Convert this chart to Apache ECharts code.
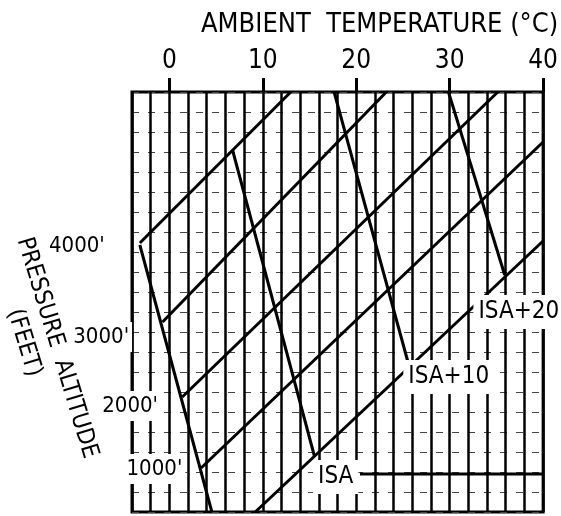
<!DOCTYPE html>
<html>
<head>
<meta charset="utf-8">
<script src="https://cdn.jsdelivr.net/npm/echarts@6/dist/echarts.min.js"></script>
<style>
html, body { margin: 0; padding: 0; background: #fff; }
#chart { width: 561px; height: 516px; }
</style>
</head>
<body>
<div id="chart"></div>
<script>
var font = "'DejaVu Sans Condensed', 'Liberation Sans Narrow', sans-serif";

// temperature ticks on the top axis
var tempTicks = [0, 10, 20, 30, 40];

// pressure altitude lines: [temperature, chart level] at each end
var altNames = ["4000'", "3000'", "2000'", "1000'", ""];
var altStart = [[-3.16, 13.45], [-0.73, 9.5], [1.38, 5.75], [3.39, 2.2], [9.19, 0]];
var altEnd = [[12.99, 21], [23.22, 21], [35.15, 21], [40, 18.5], [40, 13.55]];
var altLabelAt = [[-9.9, 13.3], [-7.3, 8.75], [-4.2, 5.3], [-1.6, 2.15]];

// ISA deviation lines
var isaNames = ['ISA', 'ISA+10', 'ISA+20'];
var isaStart = [[6.76, 18.1], [17.63, 21], [29.87, 21]];
var isaEnd = [[15.52, 2.8], [25.65, 7.3], [35.89, 11.85]];
var isaLabelAt = [[17.8, 1.75], [29.9, 6.75], [37.4, 10.0]];

// base line where the altitude lines start
var baseLine = [[-3.16, 13.35], [4.55, 0]];
// solid rule at the bottom right
var ruleLine = [[20.4, 1.9], [40, 1.9]];

var chart = echarts.init(document.getElementById('chart'));

var lineStyle = { color: '#000', width: 3 };
var series = [];

function addLine(name, pts) {
  series.push({
    name: name,
    type: 'line',
    data: pts,
    symbol: 'none',
    silent: true,
    clip: true,
    z: 3,
    lineStyle: lineStyle
  });
}

addLine('base', baseLine);
for (var i = 0; i < altNames.length; i++) {
  addLine(altNames[i] || 'SL', [altStart[i], altEnd[i]]);
}
for (var j = 0; j < isaNames.length; j++) {
  addLine(isaNames[j], [isaStart[j], isaEnd[j]]);
}
addLine('rule', ruleLine);

var labelData = [];
for (var k = 0; k < altLabelAt.length; k++) {
  labelData.push({ name: altNames[k], value: altLabelAt[k], label: { fontSize: 22, padding: [4, 3] } });
}
for (var m = 0; m < isaLabelAt.length; m++) {
  labelData.push({ name: isaNames[m], value: isaLabelAt[m], label: { fontSize: 24, padding: [5, 5] } });
}

series.push({
  name: 'labels',
  type: 'scatter',
  data: labelData,
  symbolSize: 0,
  clip: false,
  silent: true,
  z: 10,
  itemStyle: { opacity: 1 },
  label: {
    show: true,
    position: 'inside',
    formatter: '{b}',
    color: '#000',
    opacity: 1,
    textBorderWidth: 0,
    fontFamily: font,
    backgroundColor: '#fff'
  }
});

var option = {
  animation: false,
  backgroundColor: '#fff',
  title: {
    text: 'AMBIENT  TEMPERATURE (°C)',
    left: 196,
    top: 6,
    textStyle: { fontSize: 27, fontWeight: 'normal', color: '#000', fontFamily: font }
  },
  grid: {
    left: 132,
    right: 11,
    top: 92,
    bottom: 4,
    show: true,
    borderColor: '#000',
    borderWidth: 3
  },
  xAxis: [{
    type: 'value',
    position: 'top',
    min: -4,
    max: 40,
    interval: 2,
    axisLine: { show: false },
    axisTick: { show: false },
    axisLabel: {
      fontSize: 26,
      color: '#000',
      margin: 18,
      fontFamily: font,
      formatter: function (v) { return tempTicks.indexOf(v) >= 0 ? String(v) : ''; }
    },
    splitLine: { show: true, lineStyle: { color: '#000', width: 2.5 } }
  }, {
    type: 'value',
    position: 'top',
    min: -4,
    max: 40,
    axisLine: { show: false },
    axisLabel: { show: false },
    splitLine: { show: false },
    axisTick: {
      show: true,
      customValues: tempTicks,
      length: 14,
      lineStyle: { color: '#000', width: 3 }
    }
  }],
  yAxis: {
    type: 'value',
    min: 0,
    max: 21,
    interval: 1,
    axisLine: { show: false },
    axisTick: { show: false },
    axisLabel: { show: false },
    splitLine: { show: true, lineStyle: { color: '#444', width: 1.2, type: [7, 9] } }
  },
  graphic: [
    {
      type: 'text',
      x: 57,
      y: 348,
      rotation: -73 * Math.PI / 180,
      style: { text: 'PRESSURE  ALTITUDE', fontSize: 24, fontFamily: font, fill: '#000', align: 'center', verticalAlign: 'middle' }
    },
    {
      type: 'text',
      x: 24,
      y: 343,
      rotation: -73 * Math.PI / 180,
      style: { text: '(FEET)', fontSize: 24, fontFamily: font, fill: '#000', align: 'center', verticalAlign: 'middle' }
    }
  ],
  series: series
};

chart.setOption(option);
</script>
</body>
</html>
